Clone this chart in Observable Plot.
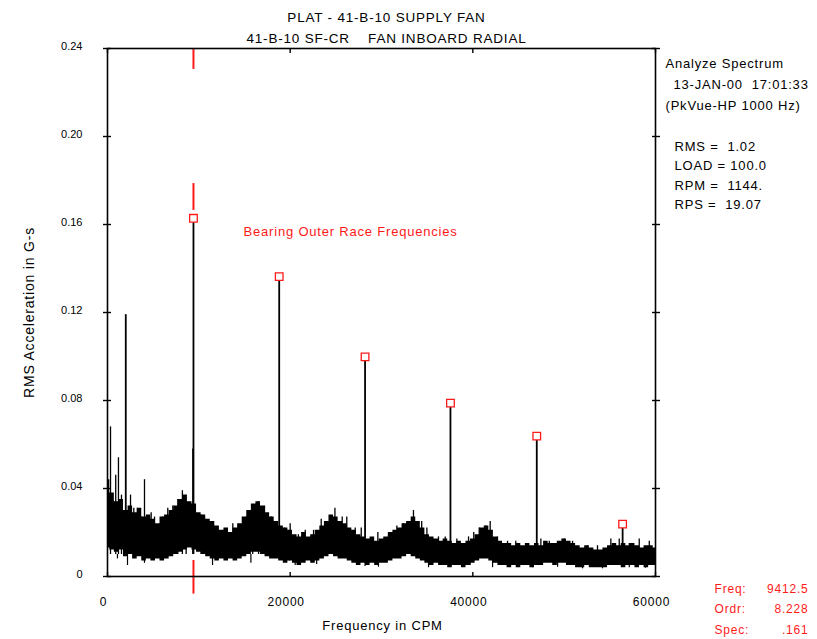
<!DOCTYPE html>
<html><head><meta charset="utf-8">
<script src="https://cdn.jsdelivr.net/npm/d3@7"></script>
<script src="https://cdn.jsdelivr.net/npm/@observablehq/plot@0.6"></script>
<style>
body{margin:0;background:#fff;}
#chart svg text{white-space:pre;letter-spacing:0.8px;}
#chart svg g[aria-label="y-axis tick label"] text{letter-spacing:0;}
</style></head><body><div id="chart"></div>
<script>
// ---- data ----
const noiseFreq = [
  0,500,1000,1500,2000,2500,3000,3500,4000,4500,
  5000,5500,6000,6500,7000,7500,8000,8500,9000,9500,
  10000,10500,11000,11500,12000,12500,13000,13500,14000,14500,
  15000,15500,16000,16500,17000,17500,18000,18500,19000,19500,
  20000,20500,21000,21500,22000,22500,23000,23500,24000,24500,
  25000,25500,26000,26500,27000,27500,28000,28500,29000,29500,
  30000,30500,31000,31500,32000,32500,33000,33500,34000,34500,
  35000,35500,36000,36500,37000,37500,38000,38500,39000,39500,
  40000,40500,41000,41500,42000,42500,43000,43500,44000,44500,
  45000,45500,46000,46500,47000,47500,48000,48500,49000,49500,
  50000,50500,51000,51500,52000,52500,53000,53500,54000,54500,
  55000,55500,56000,56500,57000,57500,58000,58500,59000,59500,
  60000];
const noiseTop = [
  0.044,0.038,0.034,0.035,0.030,0.032,0.029,0.031,0.027,0.028,
  0.026,0.024,0.027,0.028,0.030,0.032,0.035,0.037,0.034,0.033,
  0.029,0.028,0.026,0.025,0.023,0.021,0.022,0.020,0.022,0.024,
  0.027,0.030,0.033,0.034,0.032,0.029,0.027,0.025,0.023,0.022,
  0.021,0.019,0.018,0.020,0.018,0.019,0.021,0.023,0.025,0.028,
  0.027,0.025,0.024,0.022,0.021,0.019,0.018,0.017,0.018,0.016,
  0.017,0.018,0.020,0.021,0.022,0.024,0.025,0.027,0.025,0.022,
  0.019,0.018,0.017,0.016,0.017,0.016,0.015,0.016,0.015,0.016,
  0.017,0.019,0.022,0.023,0.021,0.018,0.016,0.015,0.015,0.014,
  0.015,0.014,0.015,0.014,0.015,0.014,0.016,0.015,0.015,0.016,
  0.017,0.016,0.015,0.014,0.013,0.014,0.013,0.012,0.012,0.013,
  0.014,0.015,0.014,0.015,0.014,0.015,0.014,0.013,0.014,0.014,
  0.013];
const noiseBottom = [
  0.013,0.012,0.011,0.012,0.009,0.010,0.008,0.009,0.007,0.008,
  0.007,0.008,0.007,0.008,0.009,0.010,0.011,0.012,0.013,0.012,
  0.011,0.010,0.009,0.008,0.007,0.008,0.007,0.008,0.007,0.008,
  0.009,0.010,0.011,0.011,0.010,0.009,0.008,0.008,0.007,0.006,
  0.007,0.006,0.005,0.006,0.007,0.006,0.007,0.008,0.009,0.010,
  0.009,0.008,0.008,0.007,0.006,0.005,0.006,0.005,0.006,0.005,
  0.006,0.006,0.007,0.008,0.008,0.009,0.010,0.009,0.008,0.007,
  0.006,0.005,0.006,0.005,0.005,0.004,0.005,0.005,0.004,0.005,
  0.006,0.007,0.008,0.008,0.007,0.006,0.005,0.005,0.004,0.005,
  0.004,0.005,0.005,0.004,0.005,0.005,0.006,0.006,0.005,0.006,
  0.006,0.005,0.005,0.004,0.004,0.005,0.004,0.004,0.004,0.004,
  0.005,0.005,0.005,0.004,0.005,0.005,0.004,0.005,0.004,0.005,
  0.005];
// small noise spikes poking above the band
const spikeFreq  = [
  330, 900, 1200, 1530, 2520, 2880, 3290, 3760, 4050, 4780, 5150, 6060, 6600, 7150, 7700, 8200, 8610, 9340,
  10260, 10620, 11700, 13000, 13720, 15190, 15900, 16540, 17190, 17920, 19380, 19930,
  20000, 20900, 21650, 22560, 23400, 24120, 24900, 25700, 26200, 27120, 27780, 29600, 30770, 31680, 32410,
  33500, 34400, 34970, 36240, 36980, 38250, 39530, 40100, 40700, 41430, 41900, 42700, 43800, 44700, 45800,
  47450, 48370, 50010, 50920, 52560, 53650, 55110, 56030, 57130, 58220, 59320];
const spikeValue = [
  0.068, 0.046, 0.054, 0.037, 0.037, 0.031, 0.031, 0.027, 0.044, 0.029, 0.027, 0.027, 0.031, 0.032, 0.035, 0.039, 0.034, 0.058,
  0.028, 0.027, 0.022, 0.021, 0.024, 0.027, 0.032, 0.034, 0.032, 0.027, 0.022, 0.021,
  0.024, 0.019, 0.021, 0.021, 0.026, 0.025, 0.031, 0.027, 0.027, 0.022, 0.022, 0.020, 0.019, 0.023, 0.024,
  0.030, 0.025, 0.022, 0.018, 0.018, 0.017, 0.018, 0.020, 0.022, 0.023, 0.025, 0.018, 0.016, 0.016, 0.015,
  0.017, 0.016, 0.017, 0.016, 0.014, 0.014, 0.017, 0.017, 0.015, 0.017, 0.016];
// small noise dips below the band
const dipFreq  = [1090, 2190, 4050, 11500, 15700, 19900, 20550, 22900, 28200, 29670, 35150, 37340, 39710, 42160, 46540, 49280, 52010, 54200, 57130, 58900];
const dipValue = [0.008, 0.005, 0.006, 0.005, 0.006, 0.007, 0.005, 0.0055, 0.0045, 0.0042, 0.004, 0.0045, 0.005, 0.004, 0.004, 0.0042, 0.0035, 0.0035, 0.004, 0.0038];
const otherPeakFreq  = [2000];
const otherPeakValue = [0.119];
const peakFreq  = [9412.5, 18800, 28200, 37550, 47000, 56400];
const peakValue = [0.161, 0.1345, 0.098, 0.077, 0.062, 0.022];
const cursorFreq = 9412.5;
const cursorFrom = [0.24, 0.1786, 0.0073];
const cursorTo   = [0.2305, 0.1664, -0.008];
const xTicks = [0, 20000, 40000, 60000];
const xTickLabels = ["0", "20000", "40000", "60000"];
const yTicks = [0, 0.04, 0.08, 0.12, 0.16, 0.20, 0.24];
const yTickLabels = ["0", "0.04", "0.08", "0.12", "0.16", "0.20", "0.24"];
const titleLines = ["PLAT - 41-B-10 SUPPLY FAN", "41-B-10 SF-CR    FAN INBOARD RADIAL"];
const headerLines = ["Analyze Spectrum", "13-JAN-00  17:01:33", "(PkVue-HP 1000 Hz)"];
const statLines = ["RMS =  1.02", "LOAD = 100.0", "RPM =  1144.", "RPS =  19.07"];
const cursorLabels = ["Freq:", "Ordr:", "Spec:"];
const cursorValues = ["9412.5", "8.228", ".161"];
const annotation = "Bearing Outer Race Frequencies";
const xLabel = "Frequency in CPM";
const yLabel = "RMS Acceleration in G-s";

// ---- drawing ----
const RED = "#ff1a1a";
const FONT = "'Liberation Sans', Arial, sans-serif";
const txt = (s, o) => Plot.text([s], {text: d => d, fontFamily: FONT, ...o});

const marks = [
  Plot.areaY(noiseFreq, {x: noiseFreq, y1: noiseBottom, y2: noiseTop, fill: "black", curve: "step"}),
  Plot.ruleX(spikeFreq, {x: spikeFreq, y1: 0.01, y2: spikeValue, stroke: "black", strokeWidth: 1.3}),
  Plot.ruleX(dipFreq, {x: dipFreq, y1: dipValue, y2: 0.01, stroke: "black", strokeWidth: 1.2}),
  Plot.ruleX(otherPeakFreq, {x: otherPeakFreq, y1: 0.01, y2: otherPeakValue, stroke: "black", strokeWidth: 1.8}),
  Plot.ruleX(peakFreq, {x: peakFreq, y1: 0.01, y2: peakValue, stroke: "black", strokeWidth: 1.8}),
  Plot.ruleX(cursorFrom, {x: () => cursorFreq, y1: cursorFrom, y2: cursorTo, stroke: RED, strokeWidth: 2}),
  Plot.dot(peakFreq, {x: peakFreq, y: peakValue, symbol: "square", r: 4.3, stroke: RED, fill: "white", strokeWidth: 1.3, dy: -4}),
  Plot.frame({stroke: "black", strokeWidth: 1.6}),
  Plot.axisY(yTicks, {anchor: "left", tickSize: 8, dx: 4, strokeWidth: 1.4, fill: "none", label: null}),
  Plot.axisY(yTicks, {anchor: "right", tickSize: 8, dx: -4, strokeWidth: 1.4, fill: "none", label: null}),
  Plot.axisX(xTicks, {anchor: "bottom", tickSize: 4, dy: -4, strokeWidth: 1.4, fill: "none", label: null}),
  Plot.axisX(xTicks, {anchor: "top", tickSize: 4, dy: 4, strokeWidth: 1.4, fill: "none", label: null}),
  Plot.axisY(yTicks, {anchor: "left", tickSize: 0, tickPadding: 25, fontSize: 11, dy: -2, fontFamily: FONT, label: null, tickFormat: d => yTickLabels[yTicks.indexOf(d)]}),
  Plot.axisX(xTicks, {anchor: "bottom", tickSize: 0, tickPadding: 21, fontSize: 12, dx: -4, fontFamily: FONT, label: null, tickFormat: d => xTickLabels[xTicks.indexOf(d)]}),
  txt(annotation, {x: 14900, y: 0.1568, textAnchor: "start", fill: RED, fontSize: 13}),
  txt(xLabel, {frameAnchor: "bottom", dx: 1, dy: 53, fontSize: 13}),
  txt(yLabel, {frameAnchor: "left", dx: -78, rotate: -90, textAnchor: "middle", fontSize: 14}),
  txt(titleLines[0], {frameAnchor: "top", dx: 5, dy: -36.5, fontSize: 13.5}),
  txt(titleLines[1], {frameAnchor: "top", dx: 5, dy: -15.5, fontSize: 13.5}),
  txt(headerLines[0], {frameAnchor: "top-right", dx: 10, dy: 10, textAnchor: "start", fontSize: 13}),
  txt(headerLines[1], {frameAnchor: "top-right", dx: 18, dy: 31, textAnchor: "start", fontSize: 13}),
  txt(headerLines[2], {frameAnchor: "top-right", dx: 10, dy: 52, textAnchor: "start", fontSize: 13}),
  ...statLines.map((s, i) => txt(s, {frameAnchor: "top-right", dx: 19, dy: 93 + i * 19.5, textAnchor: "start", fontSize: 13})),
  ...cursorLabels.map((s, i) => txt(s, {frameAnchor: "bottom-right", dx: 59, dy: 16 + i * 20.5, textAnchor: "start", fill: RED, fontSize: 12})),
  ...cursorValues.map((s, i) => txt(s, {frameAnchor: "bottom-right", dx: 153, dy: 16 + i * 20.5, textAnchor: "end", fill: RED, fontSize: 12}))
];

const chart = Plot.plot({
  width: 817, height: 639,
  marginLeft: 107, marginRight: 162, marginTop: 48, marginBottom: 63,
  style: {fontFamily: FONT, background: "white", color: "black"},
  x: {type: "linear", domain: [0, 60000]},
  y: {type: "linear", domain: [0, 0.24]},
  marks
});
document.getElementById("chart").append(chart);
</script></body></html>
